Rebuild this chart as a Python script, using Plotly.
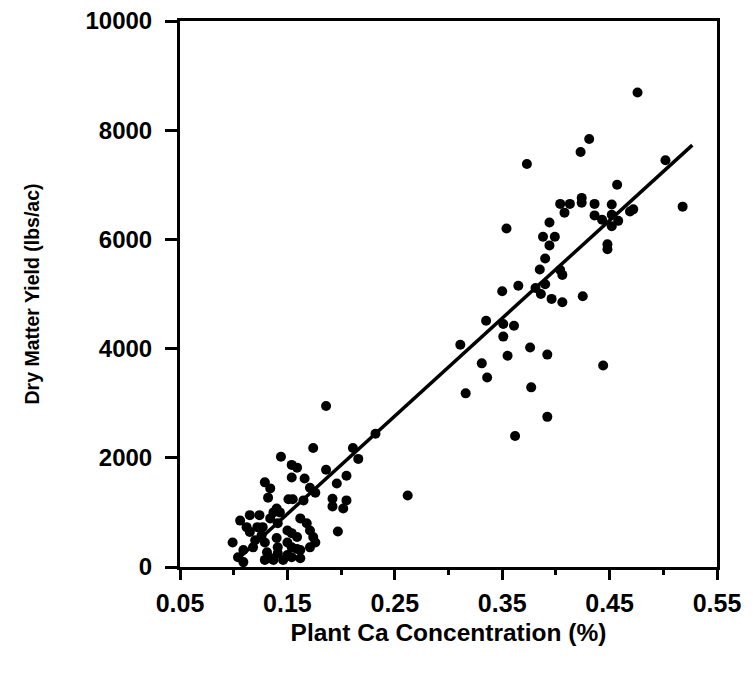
import numpy as np
import plotly.graph_objects as go

# Plant Ca concentration (%) and dry matter yield (lbs/ac)
ca_pct = [
    0.476, 0.431, 0.423, 0.502, 0.373, 0.457, 0.518, 0.424, 0.424, 0.404,
    0.413, 0.408, 0.436, 0.452, 0.436, 0.443, 0.452, 0.458, 0.452, 0.469,
    0.472, 0.448, 0.448, 0.394, 0.388, 0.399, 0.394, 0.390, 0.385, 0.404,
    0.406, 0.354, 0.390, 0.386, 0.396, 0.406, 0.425, 0.350, 0.365, 0.381,
    0.335, 0.351, 0.361, 0.311, 0.351, 0.376, 0.392, 0.355, 0.331, 0.336,
    0.316, 0.377, 0.444, 0.392, 0.362, 0.262,
    0.186, 0.174, 0.144, 0.154, 0.159, 0.166, 0.171, 0.154, 0.186, 0.211,
    0.216, 0.232, 0.205, 0.196, 0.129, 0.134, 0.176, 0.132, 0.151, 0.155,
    0.165, 0.192, 0.192, 0.202, 0.205, 0.197, 0.115, 0.124, 0.106, 0.140,
    0.099, 0.104, 0.109, 0.109,
    0.118, 0.120, 0.115, 0.122, 0.127, 0.134, 0.137, 0.143, 0.141, 0.150,
    0.154, 0.159, 0.140, 0.141, 0.141, 0.150, 0.154, 0.159, 0.162, 0.168,
    0.171, 0.174, 0.176, 0.171, 0.131, 0.134, 0.129, 0.150, 0.154, 0.162,
    0.126, 0.129, 0.112, 0.137, 0.146, 0.162,
]
dm_yield = [
    8690, 7840, 7600, 7450, 7380, 7000, 6600, 6760, 6670, 6650,
    6650, 6490, 6650, 6640, 6440, 6360, 6450, 6340, 6240, 6510,
    6550, 5910, 5820, 6310, 6050, 6050, 5890, 5650, 5450, 5440,
    5350, 6200, 5180, 5000, 4910, 4850, 4960, 5050, 5150, 5110,
    4510, 4450, 4420, 4070, 4220, 4020, 3890, 3870, 3730, 3470,
    3180, 3290, 3690, 2750, 2400, 1310,
    2950, 2180, 2020, 1870, 1820, 1620, 1450, 1640, 1780, 2180,
    1980, 2440, 1670, 1530, 1550, 1440, 1360, 1270, 1240, 1240,
    1220, 1250, 1110, 1070, 1220, 650, 950, 950, 850, 1070,
    450, 180, 90, 310,
    360, 490, 640, 730, 730, 890, 1000, 1000, 800, 670,
    620, 550, 530, 360, 250, 450, 360, 330, 890, 800,
    670, 550, 450, 360, 270, 160, 130, 220, 180, 310,
    580, 450, 730, 130, 130, 160,
]

# Regression line
fit_x_range = [0.103, 0.527]
fit_slope = 17917.0
fit_intercept = -1715.0

x_ticks = [0.05, 0.15, 0.25, 0.35, 0.45, 0.55]
x_tick_text = ["0.05", "0.15", "0.25", "0.35", "0.45", "0.55"]
x_minor_ticks = [0.10, 0.20, 0.30, 0.40, 0.50]
y_ticks = [0, 2000, 4000, 6000, 8000, 10000]
y_tick_text = ["0", "2000", "4000", "6000", "8000", "10000"]

fit_x = np.array(fit_x_range)
fit_y = fit_slope * fit_x + fit_intercept

fig = go.Figure()
fig.add_trace(go.Scatter(
    x=ca_pct, y=dm_yield, mode="markers",
    marker=dict(color="black", size=10, line=dict(width=0)),
    showlegend=False, hoverinfo="x+y",
))
fig.add_trace(go.Scatter(
    x=fit_x, y=fit_y, mode="lines",
    line=dict(color="black", width=3.5),
    showlegend=False,
))

font_family = "Liberation Sans, Arial, Helvetica, sans-serif"

fig.update_layout(
    width=753, height=674,
    margin=dict(l=172, r=44, t=13, b=115, autoexpand=False),
    paper_bgcolor="white", plot_bgcolor="white",
    font=dict(family=font_family, color="black"),
)
fig.update_xaxes(
    range=[0.05, 0.55], automargin=False,
    tickmode="array", tickvals=x_ticks, ticktext=x_tick_text,
    ticks="outside", ticklen=10, tickwidth=3, tickcolor="black",
    minor=dict(tickmode="array", tickvals=x_minor_ticks,
               ticks="outside", ticklen=5, tickwidth=3, tickcolor="black"),
    showline=True, linewidth=3, linecolor="black", mirror=True,
    showgrid=False, zeroline=False,
    tickfont=dict(family=font_family, size=25, weight="bold", color="black"),
    ticklabelstandoff=2, ticklabeloverflow="allow",
    title=dict(text="Plant Ca Concentration (%)",
               font=dict(family=font_family, size=24.5, weight="bold", color="black"),
               standoff=8),
)
fig.update_yaxes(
    range=[0, 10000], automargin=False,
    tickmode="array", tickvals=y_ticks, ticktext=y_tick_text,
    ticks="outside", ticklen=12, tickwidth=3, tickcolor="black",
    showline=True, linewidth=3, linecolor="black", mirror=True,
    showgrid=False, zeroline=False,
    tickfont=dict(family=font_family, size=24, weight="bold", color="black"),
    ticklabelstandoff=8, ticklabeloverflow="allow",
    title=dict(text="Dry Matter Yield (lbs/ac)",
               font=dict(family=font_family, size=19.5, weight="bold", color="black"),
               standoff=41),
)

fig.write_html("out.html")
